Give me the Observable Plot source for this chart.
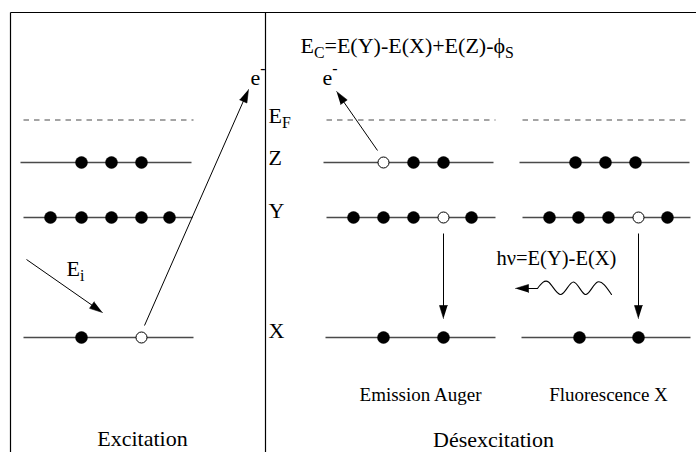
<!DOCTYPE html>
<html>
<head>
<meta charset="utf-8">
<script src="https://cdn.jsdelivr.net/npm/d3@7"></script>
<script src="https://cdn.jsdelivr.net/npm/@observablehq/plot@0.6"></script>
<style>
  html, body { margin: 0; padding: 0; background: #fff; }
  #chart svg { display: block; }
</style>
</head>
<body>
<div id="chart"></div>
<script>
// ---- Diagram data (diagram units) ----
const levelNames = ["EF", "Z", "Y", "X"];
const levelEnergy = { EF: 119.5, Z: 162, Y: 217, X: 337 };

// level segments per panel
const levelLines = [
  { panel: "excitation", level: "EF", x1: 23, x2: 193, dashed: true },
  { panel: "excitation", level: "Z", x1: 20, x2: 191 },
  { panel: "excitation", level: "Y", x1: 23, x2: 192 },
  { panel: "excitation", level: "X", x1: 23, x2: 193 },
  { panel: "auger", level: "EF", x1: 326, x2: 495, dashed: true },
  { panel: "auger", level: "Z", x1: 323, x2: 493 },
  { panel: "auger", level: "Y", x1: 326, x2: 495 },
  { panel: "auger", level: "X", x1: 325, x2: 495 },
  { panel: "fluo", level: "EF", x1: 522, x2: 690, dashed: true },
  { panel: "fluo", level: "Z", x1: 519, x2: 689 },
  { panel: "fluo", level: "Y", x1: 522, x2: 690 },
  { panel: "fluo", level: "X", x1: 521, x2: 690 }
];

// electrons (filled) and holes (open)
const electrons = [
  { level: "Z", x: 81, filled: true }, { level: "Z", x: 111, filled: true }, { level: "Z", x: 141, filled: true },
  { level: "Y", x: 50, filled: true }, { level: "Y", x: 81, filled: true }, { level: "Y", x: 111, filled: true },
  { level: "Y", x: 141, filled: true }, { level: "Y", x: 169, filled: true },
  { level: "X", x: 81, filled: true }, { level: "X", x: 141, filled: false },

  { level: "Z", x: 383, filled: false }, { level: "Z", x: 413, filled: true }, { level: "Z", x: 443, filled: true },
  { level: "Y", x: 353, filled: true }, { level: "Y", x: 383, filled: true }, { level: "Y", x: 413, filled: true },
  { level: "Y", x: 443, filled: false }, { level: "Y", x: 471, filled: true },
  { level: "X", x: 383, filled: true }, { level: "X", x: 443, filled: true },

  { level: "Z", x: 575, filled: true }, { level: "Z", x: 605, filled: true }, { level: "Z", x: 635, filled: true },
  { level: "Y", x: 549, filled: true }, { level: "Y", x: 578, filled: true }, { level: "Y", x: 608, filled: true },
  { level: "Y", x: 638, filled: false }, { level: "Y", x: 667, filled: true },
  { level: "X", x: 579, filled: true }, { level: "X", x: 638, filled: true }
];

// arrows: tail (x1,y1) -> tip (x2,y2)
const arrows = [
  { name: "incident", x1: 26, y1: 259, x2: 102, y2: 312 },
  { name: "photoelectron", x1: 144, y1: 325, x2: 248, y2: 89 },
  { name: "auger electron", x1: 377, y1: 150, x2: 336, y2: 91 },
  { name: "auger transition", x1: 443, y1: 233, x2: 443, y2: 318 },
  { name: "fluo transition", x1: 638, y1: 233, x2: 638, y2: 318 },
  { name: "photon", x1: 537, y1: 288, x2: 515, y2: 288 }
];

// photon wave: start, crests / troughs, end
const wave = [
  { x: 537, y: 288 }, { x: 548, y: 281.5 }, { x: 560.5, y: 294 }, { x: 573, y: 281.5 },
  { x: 585, y: 294 }, { x: 597, y: 281.5 }, { x: 611, y: 294 }
];

// frame
const frame = [
  { x1: 10, y1: 12, x2: 10, y2: 452 },
  { x1: 265, y1: 12, x2: 265, y2: 452 },
  { x1: 10, y1: 12, x2: 696, y2: 12 }
];

// labels (start-anchored), "_{..}" subscript, "^{..}" superscript
const labels = [
  { text: "e^{-}", x: 250, y: 77, size: 22 },
  { text: "e^{-}", x: 322, y: 77, size: 22 },
  { text: "E_{C}=E(Y)-E(X)+E(Z)-ϕ_{S}", x: 300, y: 45, size: 22 },
  { text: "E_{F}", x: 268, y: 115, size: 22 },
  { text: "Z", x: 268, y: 157, size: 22 },
  { text: "Y", x: 268, y: 210, size: 22 },
  { text: "X", x: 268, y: 330, size: 22 },
  { text: "E_{i}", x: 66, y: 268, size: 22 },
  { text: "hν=E(Y)-E(X)", x: 496, y: 257.5, size: 20.5 }
];
// titles (middle-anchored)
const titles = [
  { text: "Excitation", x: 142, y: 438, size: 22 },
  { text: "Désexcitation", x: 493, y: 439, size: 22 },
  { text: "Emission Auger", x: 420, y: 394, size: 19 },
  { text: "Fluorescence X", x: 608, y: 394, size: 19 }
];

// ---- derived geometry for filled arrowheads ----
const HEAD_L = 13, HEAD_W = 4;
const heads = [];
const shafts = arrows.map((a, i) => {
  const dx = a.x2 - a.x1, dy = a.y2 - a.y1, len = Math.hypot(dx, dy);
  const ux = dx / len, uy = dy / len;
  const bx = a.x2 - ux * HEAD_L, by = a.y2 - uy * HEAD_L;
  heads.push({ id: i, x: a.x2, y: a.y2 });
  heads.push({ id: i, x: bx - uy * HEAD_W, y: by + ux * HEAD_W });
  heads.push({ id: i, x: bx + uy * HEAD_W, y: by - ux * HEAD_W });
  return { x1: a.x1, y1: a.y1, x2: a.x2 - ux * (HEAD_L - 2), y2: a.y2 - uy * (HEAD_L - 2) };
});

const lvY = d => levelEnergy[d.level];

const marks = [
  Plot.link(frame, { x1: "x1", y1: "y1", x2: "x2", y2: "y2", stroke: "#000", strokeWidth: 1.2 }),
  Plot.link(levelLines.filter(d => !d.dashed), { x1: "x1", x2: "x2", y1: lvY, y2: lvY, stroke: "#4a4a4a", strokeWidth: 1.3 }),
  Plot.link(levelLines.filter(d => d.dashed), { x1: "x1", x2: "x2", y1: lvY, y2: lvY, stroke: "#4a4a4a", strokeWidth: 1.1, strokeDasharray: "5.5,5" }),
  Plot.link(shafts, { x1: "x1", y1: "y1", x2: "x2", y2: "y2", stroke: "#000", strokeWidth: 1 }),
  Plot.line(heads, { x: "x", y: "y", z: "id", fill: "#000", stroke: "#000", strokeWidth: 0.6 }),
  Plot.line(wave, { x: "x", y: "y", curve: "natural", stroke: "#000", strokeWidth: 1.1 }),
  Plot.dot(electrons.filter(d => d.filled), { x: "x", y: lvY, r: 6, fill: "#000", stroke: "#000", strokeWidth: 0.5 }),
  Plot.dot(electrons.filter(d => !d.filled), { x: "x", y: lvY, r: 5.5, fill: "#fff", stroke: "#000", strokeWidth: 1 }),
  Plot.text(labels, { x: "x", y: "y", text: "text", textAnchor: "start", fontSize: d => d.size, fill: "#000", lineAnchor: "middle" }),
  Plot.text(titles, { x: "x", y: "y", text: "text", textAnchor: "middle", fontSize: d => d.size, fill: "#000", lineAnchor: "middle" })
];

const svg = Plot.plot({
  width: 696,
  height: 452,
  margin: 0,
  x: { domain: [0, 696], range: [0, 696], axis: null },
  y: { domain: [0, 452], range: [0, 452], axis: null },
  style: { fontFamily: "'Liberation Serif', 'Times New Roman', serif", background: "#fff", color: "#000" },
  marks
});
document.getElementById("chart").appendChild(svg);

// ---- rich text: subscripts / superscripts as tspans ----
svg.querySelectorAll("text").forEach(t => {
  const s = t.textContent;
  if (!/[_^]\{/.test(s)) return;
  const fs = parseFloat(getComputedStyle(t).fontSize) || 22;
  const parts = [];
  const re = /([_^])\{([^}]*)\}/g;
  let last = 0, m;
  while ((m = re.exec(s))) {
    if (m.index > last) parts.push({ kind: "n", s: s.slice(last, m.index) });
    parts.push({ kind: m[1] === "_" ? "sub" : "sup", s: m[2] });
    last = re.lastIndex;
  }
  if (last < s.length) parts.push({ kind: "n", s: s.slice(last) });
  const ns = "http://www.w3.org/2000/svg";
  const host = t.querySelector("tspan") || t;
  host.textContent = "";
  let shift = 0;
  parts.forEach(p => {
    const ts = document.createElementNS(ns, "tspan");
    let target = 0;
    if (p.kind === "sub") { target = fs * 0.27; ts.setAttribute("font-size", (fs * 0.72) + "px"); }
    if (p.kind === "sup") { target = -fs * 0.5; ts.setAttribute("font-size", (fs * 0.72) + "px"); }
    const d = target - shift;
    if (d !== 0) ts.setAttribute("dy", d + "px");
    shift = target;
    ts.textContent = p.s;
    host.appendChild(ts);
  });
});
</script>
</body>
</html>
